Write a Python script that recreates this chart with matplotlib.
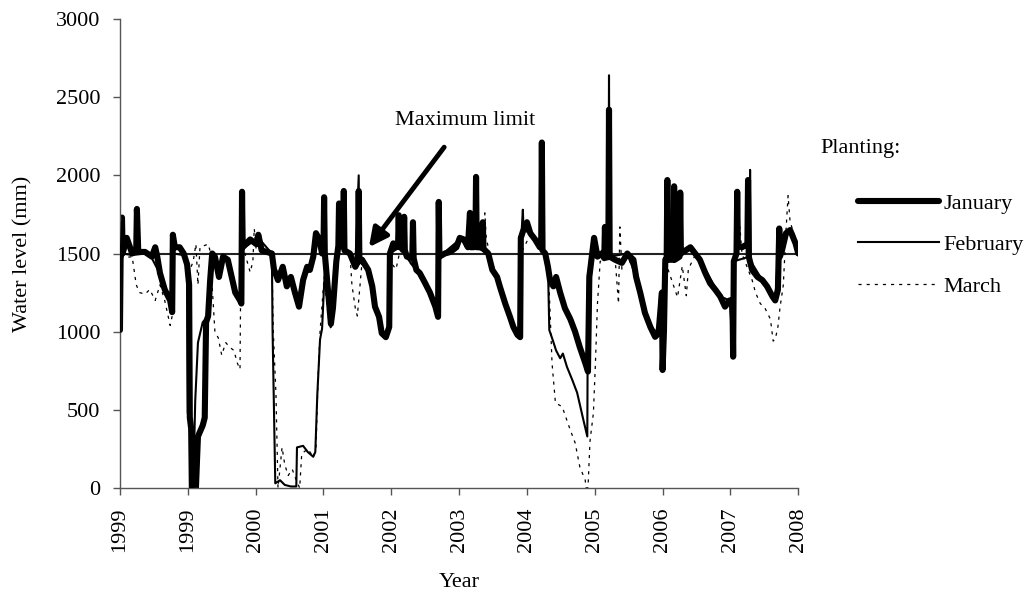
import matplotlib
matplotlib.use("Agg")
import matplotlib.pyplot as plt

plt.rcParams['font.family'] = ['Liberation Serif', 'DejaVu Serif']

# axis position (tick units) and labels
tick_pos = [0, 1, 2, 3, 4, 5, 6, 7, 8, 9, 10]
tick_labels = ['1999', '1999', '2000', '2001', '2002', '2003',
               '2004', '2005', '2006', '2007', '2008']
max_limit = 1500

# January planting (x in tick units, water level in mm)
jan_t = [0.00, 0.01, 0.03, 0.04, 0.10, 0.18, 0.24, 0.25, 0.27, 0.37, 0.47, 0.52, 0.55, 0.59,
         0.66, 0.74, 0.77, 0.78, 0.81, 0.88, 0.94, 0.99, 1.02, 1.03, 1.05, 1.06, 1.12, 1.15,
         1.22, 1.25, 1.27, 1.30, 1.33, 1.36, 1.40, 1.46, 1.52, 1.59, 1.70, 1.77, 1.79, 1.80,
         1.81, 1.92, 2.01, 2.04, 2.09, 2.24, 2.27, 2.33, 2.40, 2.46, 2.52, 2.58, 2.64, 2.70,
         2.76, 2.80, 2.85, 2.89, 2.94, 2.98, 3.00, 3.01, 3.02, 3.07, 3.11, 3.14, 3.19, 3.22,
         3.23, 3.24, 3.29, 3.30, 3.31, 3.39, 3.47, 3.51, 3.52, 3.53, 3.57, 3.66, 3.72, 3.76,
         3.82, 3.86, 3.92, 3.97, 3.98, 4.03, 4.07, 4.10, 4.11, 4.12, 4.18, 4.19, 4.20, 4.23,
         4.31, 4.32, 4.33, 4.37, 4.42, 4.50, 4.57, 4.65, 4.69, 4.70, 4.71, 4.79, 4.87, 4.96,
         5.01, 5.07, 5.13, 5.16, 5.17, 5.20, 5.21, 5.22, 5.24, 5.25, 5.26, 5.34, 5.35, 5.36,
         5.43, 5.49, 5.56, 5.60, 5.68, 5.75, 5.80, 5.86, 5.90, 5.91, 5.94, 6.00, 6.05, 6.12,
         6.19, 6.21, 6.22, 6.23, 6.27, 6.31, 6.34, 6.39, 6.43, 6.49, 6.56, 6.64, 6.71, 6.78,
         6.86, 6.90, 6.92, 6.99, 7.04, 7.10, 7.14, 7.15, 7.16, 7.20, 7.21, 7.22, 7.30, 7.40,
         7.48, 7.52, 7.57, 7.61, 7.67, 7.74, 7.82, 7.89, 7.94, 7.96, 7.99, 8.00, 8.02, 8.04,
         8.06, 8.07, 8.08, 8.16, 8.17, 8.18, 8.25, 8.26, 8.27, 8.41, 8.48, 8.55, 8.63, 8.70,
         8.78, 8.85, 8.92, 8.99, 9.03, 9.04, 9.05, 9.09, 9.10, 9.11, 9.17, 9.25, 9.26, 9.27,
         9.32, 9.40, 9.47, 9.54, 9.62, 9.66, 9.70, 9.72, 9.73, 9.76, 9.82, 9.88, 9.96, 10.00]
jan_mm = [1010, 1480, 1730, 1500, 1600, 1500, 1520, 1785, 1510, 1510, 1480, 1540, 1480, 1375,
          1270, 1200, 1125, 1620, 1540, 1540, 1500, 1430, 1300, 450, 380, 0, 0, 330,
          400, 450, 1060, 1100, 1330, 1500, 1480, 1350, 1480, 1460, 1250, 1200, 1180, 1895,
          1540, 1590, 1560, 1620, 1520, 1500, 1400, 1330, 1415, 1290, 1350, 1250, 1160, 1330,
          1415, 1395, 1480, 1630, 1590, 1500, 1500, 1860, 1500, 1250, 1050, 1150, 1450, 1550,
          1820, 1550, 1560, 1900, 1520, 1500, 1415, 1450, 1900, 1450, 1460, 1395, 1290, 1160,
          1095, 990, 965, 1030, 1500, 1565, 1540, 1550, 1745, 1540, 1540, 1735, 1520, 1480,
          1470, 1700, 1470, 1395, 1375, 1310, 1250, 1160, 1095, 1830, 1480, 1500, 1510, 1540,
          1600, 1590, 1540, 1760, 1540, 1540, 1735, 1540, 1560, 1990, 1540, 1540, 1700, 1530,
          1500, 1395, 1350, 1290, 1180, 1095, 1030, 980, 965, 1600, 1640, 1700, 1630, 1590,
          1540, 1540, 2210, 1520, 1500, 1415, 1330, 1290, 1350, 1250, 1150, 1080, 1000, 900,
          800, 745, 1350, 1600, 1480, 1500, 1470, 1670, 1480, 1480, 2420, 1480, 1460, 1440,
          1500, 1480, 1460, 1350, 1250, 1120, 1030, 967, 990, 1095, 1250, 755, 1000, 1460,
          1460, 1970, 1460, 1460, 1930, 1460, 1480, 1890, 1500, 1540, 1500, 1460, 1375, 1310,
          1267, 1225, 1160, 1200, 1200, 840, 1450, 1500, 1895, 1550, 1540, 1560, 1970, 1480,
          1395, 1350, 1330, 1290, 1225, 1200, 1267, 1660, 1480, 1520, 1630, 1650, 1565, 1500]

# February planting
feb_t = [0.00, 0.01, 0.03, 0.04, 0.18, 0.37, 0.47, 0.59, 0.74, 0.77, 0.79, 0.94, 0.99, 1.00,
         1.03, 1.05, 1.08, 1.11, 1.15, 1.22, 1.30, 1.33, 1.36, 1.46, 1.52, 1.59, 1.70, 1.77,
         1.80, 1.81, 2.04, 2.24, 2.25, 2.29, 2.36, 2.43, 2.52, 2.60, 2.61, 2.70, 2.77, 2.85,
         2.88, 2.91, 2.95, 2.98, 3.01, 3.04, 3.07, 3.11, 3.14, 3.19, 3.24, 3.39, 3.47, 3.52,
         3.53, 3.66, 3.76, 3.86, 3.92, 3.97, 3.98, 4.12, 4.37, 4.57, 4.69, 4.71, 5.01, 5.25,
         5.43, 5.60, 5.75, 5.90, 5.91, 5.94, 5.95, 6.05, 6.22, 6.31, 6.33, 6.37, 6.43, 6.49,
         6.53, 6.59, 6.67, 6.74, 6.83, 6.89, 6.90, 6.96, 7.01, 7.20, 7.21, 7.22, 7.48, 7.61,
         7.82, 7.94, 7.99, 8.00, 8.04, 8.41, 8.55, 8.85, 8.99, 9.04, 9.05, 9.28, 9.29, 9.30,
         9.47, 9.66, 9.72, 9.88, 10.00]
feb_mm = [1000, 1480, 1700, 1500, 1490, 1500, 1470, 1370, 1200, 1130, 1500, 1490, 1420, 480,
          420, 0, 0, 560, 930, 1060, 1100, 1330, 1490, 1350, 1470, 1450, 1250, 1200,
          1850, 1530, 1600, 1500, 1010, 30, 50, 20, 10, 10, 260, 270, 230, 200,
          230, 600, 950, 1020, 1300, 1500, 1250, 1030, 1150, 1450, 1540, 1500, 1420, 2000,
          1450, 1390, 1160, 990, 965, 1030, 1500, 1540, 1390, 1250, 1095, 1480, 1590, 1540,
          1500, 1290, 1095, 965, 1550, 1780, 1650, 1630, 1540, 1420, 1010, 960, 880, 830,
          860, 775, 690, 610, 440, 330, 1370, 1480, 1520, 1480, 2640, 1480, 1500, 1350,
          1030, 990, 1250, 760, 1460, 1530, 1460, 1225, 1200, 860, 1450, 1480, 2035, 1450,
          1330, 1200, 1600, 1640, 1500]

# March planting
mar_t = [0.00, 0.01, 0.18, 0.24, 0.29, 0.37, 0.44, 0.52, 0.59, 0.66, 0.74, 0.77, 0.78, 0.88,
         0.96, 1.02, 1.08, 1.12, 1.15, 1.18, 1.30, 1.34, 1.36, 1.40, 1.45, 1.50, 1.56, 1.62,
         1.68, 1.73, 1.77, 1.78, 1.81, 1.92, 1.96, 1.98, 2.01, 2.24, 2.26, 2.30, 2.33, 2.39,
         2.43, 2.48, 2.54, 2.60, 2.65, 2.68, 2.77, 2.85, 2.89, 2.92, 2.95, 3.01, 3.07, 3.11,
         3.17, 3.26, 3.39, 3.42, 3.47, 3.50, 3.52, 3.57, 3.66, 3.76, 3.86, 3.92, 3.97, 3.98,
         4.07, 4.13, 4.37, 4.57, 4.69, 4.71, 5.01, 5.35, 5.38, 5.40, 5.46, 5.60, 5.75, 5.90,
         5.91, 6.05, 6.22, 6.31, 6.33, 6.37, 6.42, 6.52, 6.64, 6.71, 6.78, 6.86, 6.87, 6.90,
         6.93, 6.98, 7.01, 7.04, 7.08, 7.30, 7.35, 7.37, 7.40, 7.45, 7.61, 7.82, 7.94, 7.99,
         8.01, 8.04, 8.22, 8.29, 8.35, 8.38, 8.48, 8.55, 8.85, 8.99, 9.04, 9.07, 9.14, 9.17,
         9.32, 9.37, 9.44, 9.51, 9.59, 9.63, 9.66, 9.70, 9.73, 9.78, 9.82, 9.85, 9.88, 9.96,
         10.00]
mar_mm = [1000, 1470, 1480, 1300, 1250, 1240, 1270, 1200, 1300, 1200, 1040, 1100, 1500, 1530,
          1480, 1380, 1450, 1560, 1300, 1540, 1560, 1500, 1290, 1000, 960, 850, 930, 900,
          880, 800, 760, 1300, 1550, 1380, 1450, 1660, 1520, 1500, 1010, 600, 0, 260,
          150, 80, 120, 50, 0, 220, 250, 200, 250, 700, 1000, 1350, 1100, 1010,
          1400, 1550, 1500, 1300, 1150, 1100, 1200, 1450, 1390, 1160, 990, 965, 1030, 1450,
          1400, 1520, 1390, 1250, 1095, 1480, 1580, 1540, 1760, 1600, 1480, 1290, 1095, 965,
          1500, 1620, 1540, 1420, 1250, 800, 545, 520, 370, 290, 135, 50, 0, 0,
          300, 480, 800, 1180, 1450, 1470, 1180, 1670, 1400, 1520, 1350, 1030, 990, 1200,
          780, 1450, 1220, 1420, 1230, 1400, 1490, 1460, 1225, 1200, 900, 1450, 1670, 1500,
          1330, 1250, 1180, 1150, 1080, 940, 950, 1030, 1150, 1300, 1650, 1870, 1700, 1600,
          1500]

FS = 16

fig = plt.figure(figsize=(10.34, 5.93), dpi=100)
ax = fig.add_axes([0.116, 0.177, 0.656, 0.791])

ax.axhline(max_limit, color='#222222', lw=1.5, zorder=1)
ax.plot(jan_t, jan_mm, color='black', lw=4.4, solid_joinstyle='round',
        solid_capstyle='round', label='January', zorder=2)
ax.plot(feb_t, feb_mm, color='black', lw=1.5, label='February', zorder=3)
ax.plot(mar_t, mar_mm, color='black', lw=0.9, linestyle=(0, (2.5, 4)),
        label='March', zorder=4)

ax.set_xlim(0, 10)
ax.set_ylim(0, 3000)
ax.set_xticks(tick_pos)
ax.set_xticklabels(tick_labels, rotation=90)
ax.set_yticks(range(0, 3001, 500))
ax.tick_params(axis='both', direction='out', length=5, width=1,
               color='#555555', labelsize=FS)
ax.tick_params(axis='x', pad=9)
ax.tick_params(axis='y', pad=9)
for side in ['top', 'right']:
    ax.spines[side].set_visible(False)
for side in ['left', 'bottom']:
    ax.spines[side].set_color('#555555')
    ax.spines[side].set_linewidth(1)

ax.set_xlabel('Year', fontsize=FS, labelpad=15)
ax.set_ylabel('Water level (mm)', fontsize=FS, labelpad=17)

ax.annotate('', xy=(3.67, 1540), xytext=(4.78, 2180),
            arrowprops=dict(arrowstyle='-|>', lw=3.5, mutation_scale=28,
                            color='black', shrinkA=0, shrinkB=0))
ax.text(5.09, 2350, 'Maximum limit', fontsize=FS, ha='center', va='center')

fig.text(820 / 1034, 1 - 148 / 593, 'Planting:', fontsize=FS, va='center', ha='left')
leg = ax.legend(loc='upper left', bbox_to_anchor=(858 / 1034, 1 - 193 / 593),
                bbox_transform=fig.transFigure, frameon=False, fontsize=FS,
                handlelength=3.65, handletextpad=0.18, labelspacing=0.95,
                borderpad=0, borderaxespad=0)

fig.savefig('out.png', dpi=100)
